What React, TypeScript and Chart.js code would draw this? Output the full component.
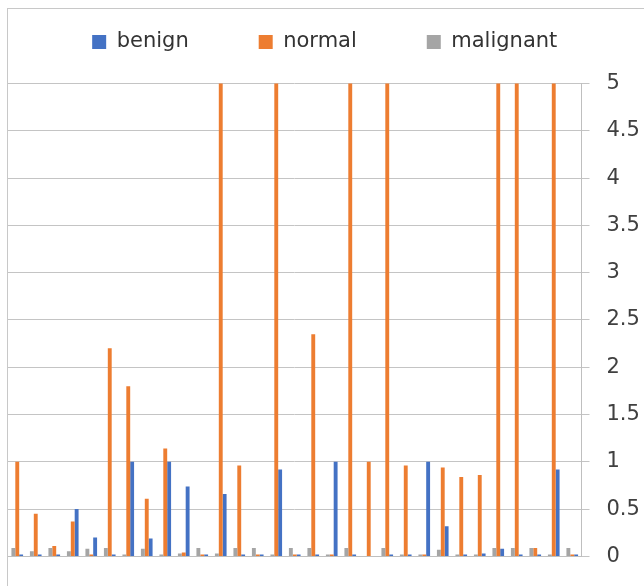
import React, { useEffect, useRef } from 'react';
import { Chart, registerables } from 'chart.js';

Chart.register(...registerables);

const categories = [
  '1', '2', '3', '4', '5', '6', '7', '8', '9', '10',
  '11', '12', '13', '14', '15', '16', '17', '18', '19', '20',
  '21', '22', '23', '24', '25', '26', '27', '28', '29', '30', '31',
];

const benign = [
  0.02, 0.02, 0.02, 0.5, 0.2, 0.02, 1.0, 0.19, 1.0, 0.74,
  0.02, 0.66, 0.02, 0.02, 0.92, 0.02, 0.02, 1.0, 0.02, 0,
  0.02, 0.02, 1.0, 0.32, 0.02, 0.03, 0.08, 0.02, 0.02, 0.92, 0.02,
];

const normal = [
  1.0, 0.45, 0.11, 0.37, 0.02, 2.2, 1.8, 0.61, 1.14, 0.04,
  0.02, 6, 0.96, 0.02, 6, 0.02, 2.35, 0.02, 6, 1.0,
  6, 0.96, 0.02, 0.94, 0.84, 0.86, 6, 6, 0.09, 6, 0.02,
];

const malignant = [
  0.09, 0.055, 0.09, 0.055, 0.08, 0.09, 0.02, 0.08, 0.02, 0.03,
  0.09, 0.03, 0.09, 0.09, 0.02, 0.09, 0.09, 0.02, 0.09, 0,
  0.09, 0.02, 0.02, 0.07, 0.02, 0.02, 0.09, 0.09, 0.09, 0.02, 0.09,
];

const yTickValues = [0, 0.5, 1, 1.5, 2, 2.5, 3, 3.5, 4, 4.5, 5];

const FONT = '"DejaVu Sans", sans-serif';

export default function App() {
  const ref = useRef<HTMLCanvasElement>(null);

  useEffect(() => {
    document.body.style.margin = '0';
    const legendGap = {
      id: 'legendGap',
      beforeInit(chart: any) {
        const legend = chart.legend;
        if (!legend) return;
        const fit = legend.fit;
        legend.fit = function () {
          fit.call(this);
          this.height += 21;
        };
      },
    };

    const chart = new Chart(ref.current as HTMLCanvasElement, {
      type: 'bar',
      data: {
        labels: categories,
        datasets: [
          { label: 'malignant', data: malignant, backgroundColor: '#A5A5A5', clip: 0 } as any,
          { label: 'normal', data: normal, backgroundColor: '#ED7D31', clip: 0 } as any,
          { label: 'benign', data: benign, backgroundColor: '#4472C4', clip: 0 } as any,
        ],
      },
      options: {
        responsive: false,
        maintainAspectRatio: false,
        animation: false,
        layout: { padding: { top: -38.5, left: 8, right: 2.5, bottom: 13.7 } },
        datasets: { bar: { categoryPercentage: 0.63, barPercentage: 1 } } as any,
        plugins: {
          legend: {
            position: 'top',
            align: 'center',
            labels: {
              boxWidth: 14,
              boxHeight: 14,
              padding: 70,
              color: '#333333',
              font: { family: FONT, size: 21 },
              sort: (a: any, b: any) => b.datasetIndex - a.datasetIndex,
            },
          },
          tooltip: { enabled: false },
        },
        scales: {
          x: {
            grid: { display: false, drawTicks: false },
            ticks: { display: false },
            border: { display: true, color: '#bfbfbf' },
            afterFit: (s: any) => {
              s.height = 0;
            },
          },
          y: {
            position: 'right',
            min: 0,
            max: 5,
            afterBuildTicks: (axis: any) => {
              axis.ticks = yTickValues.map((v) => ({ value: v }));
            },
            grid: { color: '#c4c4c4', tickLength: 8 },
            border: { display: true, color: '#bfbfbf' },
            ticks: {
              padding: 17,
              color: '#404040',
              font: { family: FONT, size: 21 },
              callback: (v: any) => String(v),
            },
            afterFit: (s: any) => {
              s.width = 60;
            },
          },
        },
      },
      plugins: [legendGap],
    });
    return () => chart.destroy();
  }, []);

  return (
    <div style={{ position: 'relative', width: 644, height: 586, overflow: 'hidden' }}>
      <canvas ref={ref} width={644} height={586} style={{ display: 'block' }} />
      <div
        style={{
          position: 'absolute',
          left: 7,
          top: 8,
          width: 700,
          height: 700,
          borderLeft: '1px solid #c8c8c8',
          borderTop: '1px solid #c8c8c8',
          pointerEvents: 'none',
        }}
      />
    </div>
  );
}
